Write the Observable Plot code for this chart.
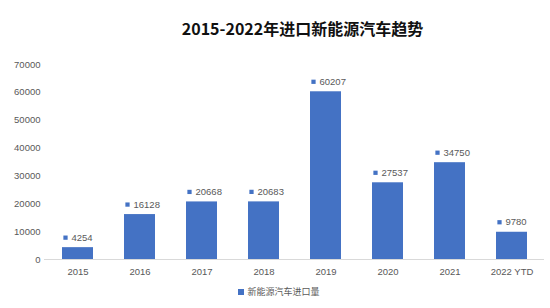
<!DOCTYPE html>
<html>
<head>
<meta charset="utf-8">
<script src="https://cdn.jsdelivr.net/npm/d3@7"></script>
<script src="https://cdn.jsdelivr.net/npm/@observablehq/plot@0.6"></script>
<style>
  html, body { margin: 0; padding: 0; background: #fff; }
  body { width: 550px; height: 308px; overflow: hidden; font-family: "Liberation Sans", Arial, sans-serif; }
  #title { height: 50px; box-sizing: border-box; padding-top: 17px; padding-left: 55px; text-align: center; font-family: "Noto Sans CJK SC", "Noto Sans", sans-serif; font-weight: 700; font-size: 16px; color: #111; line-height: 22px; }
  #legend { height: 20px; box-sizing: border-box; padding-top: 1px; text-align: center; font-family: "Noto Sans CJK SC", sans-serif; font-size: 9px; color: #595959; line-height: 10px; padding-left: 8px; }
  #legend span.sw { display: inline-block; width: 6px; height: 6px; background: #4472C4; margin-right: 3px; vertical-align: 0px; }
</style>
</head>
<body>
<div id="title">2015-2022年进口新能源汽车趋势</div>
<div id="chart"></div>
<div id="legend"><span class="sw"></span>新能源汽车进口量</div>
<script>
const categories = ["2015", "2016", "2017", "2018", "2019", "2020", "2021", "2022 YTD"];
const values = [4254, 16128, 20668, 20683, 60207, 27537, 34750, 9780];
const yTicks = [0, 10000, 20000, 30000, 40000, 50000, 60000, 70000];
const seriesName = "新能源汽车进口量";

const data = categories.map((c, i) => ({cat: c, value: values[i]}));
const color = "#4472C4";
const textColor = "#595959";

const chart = Plot.plot({
  width: 550,
  height: 236,
  marginLeft: 44,
  marginRight: 6,
  marginTop: 14,
  marginBottom: 27,
  style: { fontFamily: "'Liberation Sans', Arial, sans-serif", fontSize: "9.5px", color: textColor, background: "white" },
  x: { domain: categories, paddingInner: 0.5, paddingOuter: 0.25, label: null, tickSize: 0, tickPadding: 9 },
  y: { domain: [0, 70000], ticks: yTicks, label: null, tickSize: 0, tickPadding: 4, tickFormat: d => String(d) },
  marks: [
    Plot.barY(data, { x: "cat", y: "value", fill: color }),
    Plot.ruleY([0], { stroke: "#d9d9d9", strokeWidth: 1 }),
    Plot.dot(data, { x: "cat", y: "value", symbol: "square", r: 2.4, fill: color, stroke: null, dx: -12.5, dy: -10 }),
    Plot.text(data, { x: "cat", y: "value", text: d => String(d.value), textAnchor: "start", dx: -6.5, dy: -10, fill: textColor, fontSize: 9.5 })
  ]
});
document.getElementById("chart").appendChild(chart);
</script>
</body>
</html>
